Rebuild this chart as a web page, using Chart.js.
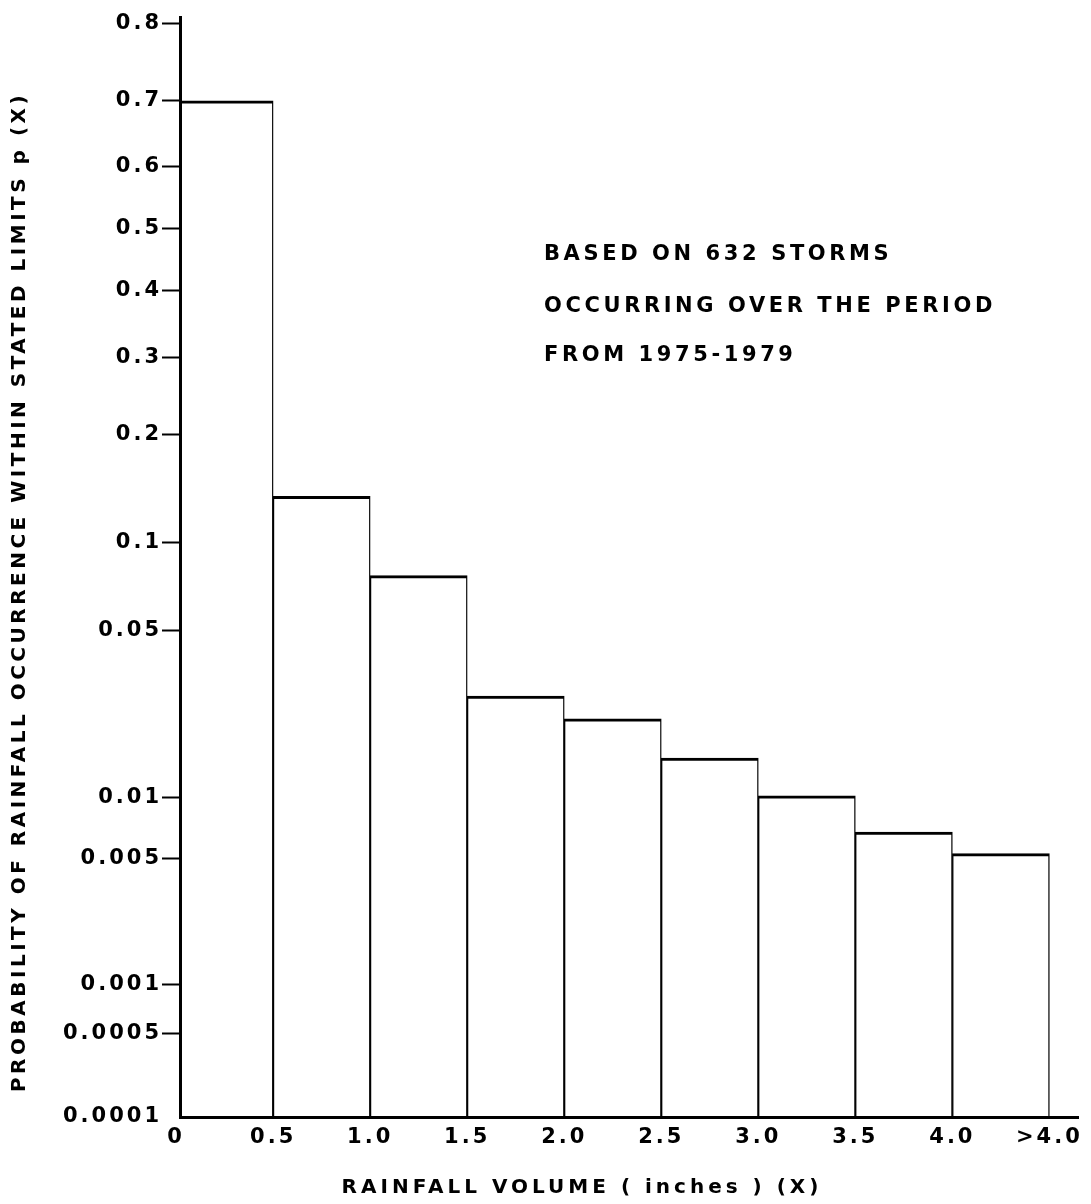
<!DOCTYPE html>
<html>
<head>
<meta charset="utf-8">
<script src="https://cdn.jsdelivr.net/npm/chart.js@4.4.1/dist/chart.umd.min.js"></script>
<style>
  html, body { margin: 0; padding: 0; background: #fff; }
  canvas { display: block; }
</style>
</head>
<body>
<canvas id="chart" width="1091" height="1204"></canvas>
<script>
// Rainfall volume bins (inches) and their tick labels
const binEdges = [0, 0.5, 1.0, 1.5, 2.0, 2.5, 3.0, 3.5, 4.0, 4.5];
const binLabels = ['0', '0.5', '1.0', '1.5', '2.0', '2.5', '3.0', '3.5', '4.0', '>4.0'];

// Probability of a storm falling within each bin
const probability = [0.70, 0.137, 0.078, 0.028, 0.0225, 0.0152, 0.0102, 0.0068, 0.0053];

// Probability axis ticks
const yTickValues = [0.8, 0.7, 0.6, 0.5, 0.4, 0.3, 0.2, 0.1, 0.05, 0.01, 0.005, 0.001, 0.0005, 0.0001];
const yTickLabels = ['0.8', '0.7', '0.6', '0.5', '0.4', '0.3', '0.2', '0.1', '0.05', '0.01', '0.005', '0.001', '0.0005', '0.0001'];

// Note printed inside the plot
const noteLines = ['BASED ON 632 STORMS', 'OCCURRING OVER THE PERIOD', 'FROM 1975-1979'];

const xTitle = 'RAINFALL VOLUME ( inches ) (X)';
const yTitle = 'PROBABILITY OF RAINFALL OCCURRENCE WITHIN STATED LIMITS p (X)';

const FONT = '"DejaVu Sans", "Liberation Sans", sans-serif';

// Inverse standard normal CDF (Acklam's rational approximation)
function probit(p) {
  if (p <= 0) return -Infinity;
  if (p >= 1) return Infinity;
  const a = [-3.969683028665376e+01, 2.209460984245205e+02, -2.759285104469687e+02,
             1.383577518672690e+02, -3.066479806614716e+01, 2.506628277459239e+00];
  const b = [-5.447609879822406e+01, 1.615858368580409e+02, -1.556989798598866e+02,
             6.680131188771972e+01, -1.328068155288572e+01];
  const c = [-7.784894002430293e-03, -3.223964580411365e-01, -2.400758277161838e+00,
             -2.549732539343734e+00, 4.374664141464968e+00, 2.938163982698783e+00];
  const d = [7.784695709041462e-03, 3.224671290700398e-01, 2.445134137142996e+00,
             3.754408661907416e+00];
  const pl = 0.02425;
  let q, r;
  if (p < pl) {
    q = Math.sqrt(-2 * Math.log(p));
    return (((((c[0]*q + c[1])*q + c[2])*q + c[3])*q + c[4])*q + c[5]) /
           ((((d[0]*q + d[1])*q + d[2])*q + d[3])*q + 1);
  }
  if (p > 1 - pl) {
    q = Math.sqrt(-2 * Math.log(1 - p));
    return -(((((c[0]*q + c[1])*q + c[2])*q + c[3])*q + c[4])*q + c[5]) /
            ((((d[0]*q + d[1])*q + d[2])*q + d[3])*q + 1);
  }
  q = p - 0.5;
  r = q * q;
  return (((((a[0]*r + a[1])*r + a[2])*r + a[3])*r + a[4])*r + a[5]) * q /
         (((((b[0]*r + b[1])*r + b[2])*r + b[3])*r + b[4])*r + 1);
}

// Standard normal CDF
function normCdf(z) {
  const t = 1 / (1 + 0.3275911 * Math.abs(z) / Math.SQRT2);
  const y = 1 - (((((1.061405429 * t - 1.453152027) * t) + 1.421413741) * t - 0.284496736) * t + 0.254829592) * t * Math.exp(-z * z / 2);
  return z >= 0 ? 0.5 * (1 + y) : 0.5 * (1 - y);
}

// Normal-probability axis: values are spaced by their standard normal quantile.
// Anything below the axis minimum sits on the axis floor.
class ProbabilityScale extends Chart.Scale {
  static id = 'probability';
  static defaults = {};

  determineDataLimits() {
    this.min = this.options.min;
    this.max = this.options.max;
  }
  buildTicks() {
    return yTickValues.map(v => ({ value: v }));
  }
  generateTickLabels(ticks) {
    ticks.forEach((t, i) => { t.label = yTickLabels[i]; });
  }
  getLabelForValue(v) {
    return String(v);
  }
  configure() {
    super.configure();
    this._zMin = probit(this.min);
    this._zMax = probit(this.max);
  }
  getPixelForValue(v) {
    let z = probit(v);
    if (!(z > this._zMin)) z = this._zMin;
    return this.getPixelForDecimal((z - this._zMin) / (this._zMax - this._zMin));
  }
  getValueForPixel(px) {
    return normCdf(this._zMin + this.getDecimalForPixel(px) * (this._zMax - this._zMin));
  }
  getBasePixel() {
    return this.getPixelForValue(this.min);
  }
}
Chart.register(ProbabilityScale);

// Wide letter tracking for the tick lettering
const TRACKING = '3px';
const trackingPlugin = {
  id: 'tracking',
  beforeUpdate(chart) { chart.ctx.letterSpacing = TRACKING; },
  beforeDraw(chart) { chart.ctx.letterSpacing = TRACKING; }
};

// Note block and both axis titles
const lettering = {
  id: 'lettering',
  afterDraw(chart) {
    const ctx = chart.ctx;
    ctx.save();
    ctx.fillStyle = '#000';
    ctx.textBaseline = 'middle';

    ctx.font = 'bold 21px ' + FONT;
    ctx.letterSpacing = '3.6px';
    ctx.textAlign = 'left';
    const noteY = [255, 307, 356];
    noteLines.forEach((line, i) => ctx.fillText(line, 544, noteY[i]));

    ctx.font = 'bold 20px ' + FONT;
    ctx.letterSpacing = '4px';
    ctx.textAlign = 'center';
    ctx.fillText(xTitle, 582, 1188);

    ctx.save();
    ctx.translate(20, 592);
    ctx.rotate(-Math.PI / 2);
    ctx.font = 'bold 20px ' + FONT;
    ctx.letterSpacing = '3.5px';
    ctx.fillText(yTitle, 0, 0);
    ctx.restore();

    ctx.restore();
  }
};

// The floor tick sits in the axis corner and carries no tick mark
const floorValue = yTickValues[yTickValues.length - 1];

const ctx = document.getElementById('chart').getContext('2d');
new Chart(ctx, {
  type: 'bar',
  data: {
    datasets: [{
      data: probability.map((p, i) => ({ x: (binEdges[i] + binEdges[i + 1]) / 2, y: p })),
      backgroundColor: '#ffffff',
      borderColor: '#000000',
      borderWidth: { top: 3, left: 1.4, right: 1.4, bottom: 0 },
      borderSkipped: false,
      barPercentage: 1,
      categoryPercentage: 1
    }]
  },
  options: {
    responsive: false,
    animation: false,
    events: [],
    layout: { padding: { top: 17, right: 6, left: 0, bottom: 0 } },
    plugins: {
      legend: { display: false },
      tooltip: { enabled: false }
    },
    scales: {
      x: {
        type: 'linear',
        min: 0.02,
        max: 4.65,
        offset: false,
        afterBuildTicks(scale) {
          scale.ticks = binEdges.map(v => ({ value: v }));
        },
        afterFit(scale) { scale.height = 87; },
        ticks: {
          autoSkip: false,
          maxRotation: 0,
          padding: 8,
          color: '#000',
          font: { family: FONT, size: 21, weight: 'bold' },
          callback: (v, i) => binLabels[i]
        },
        grid: { display: false, drawTicks: false },
        border: { display: true, color: '#000', width: 3, z: 1 }
      },
      y: {
        type: 'probability',
        min: 0.00014,
        max: 0.807,
        afterFit(scale) { scale.width = 180; },
        ticks: {
          autoSkip: false,
          padding: 0,
          color: '#000',
          font: { family: FONT, size: 21, weight: 'bold' }
        },
        grid: {
          drawOnChartArea: false,
          drawTicks: true,
          tickLength: 18,
          tickWidth: 2,
          tickColor: (c) => (c.tick && c.tick.value === floorValue) ? 'rgba(0,0,0,0)' : '#000'
        },
        border: { display: true, color: '#000', width: 3, z: 1 },
        title: { display: false }
      }
    }
  },
  plugins: [trackingPlugin, lettering]
});
</script>
</body>
</html>
